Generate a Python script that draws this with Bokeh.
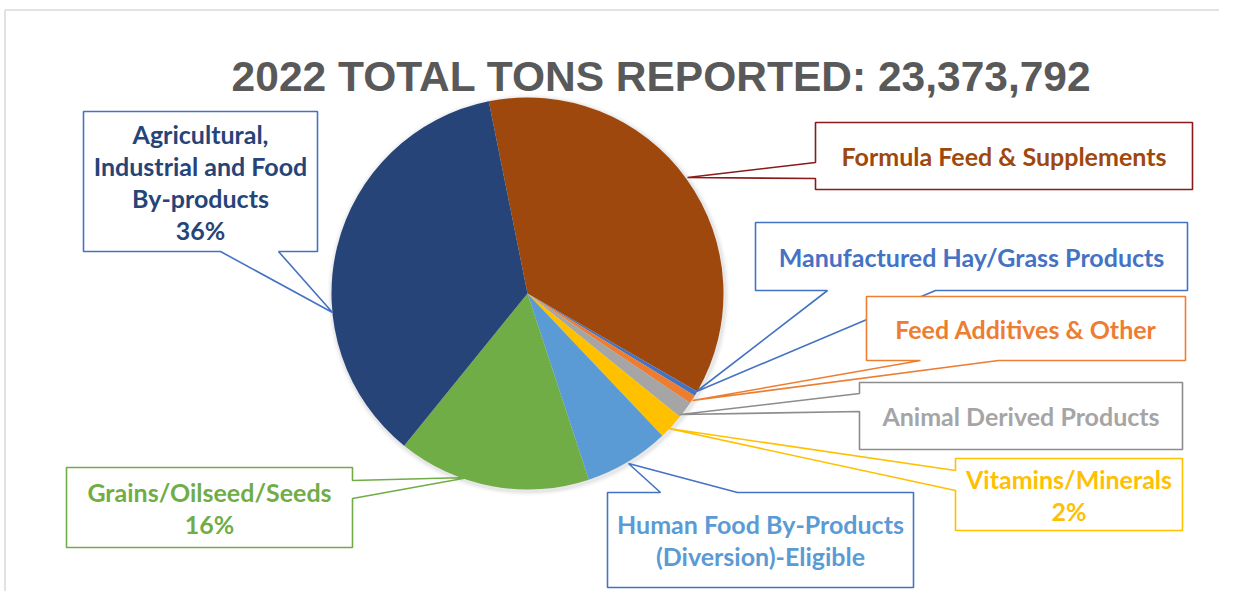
import math
from bokeh.plotting import figure
from bokeh.models import Range1d
from bokeh.core.properties import value
from bokeh.embed import file_html
from bokeh.resources import INLINE

# ---------------- data ----------------
title_text = "2022 TOTAL TONS REPORTED: 23,373,792"
categories = [
    "Formula Feed & Supplements",
    "Manufactured Hay/Grass Products",
    "Feed Additives & Other",
    "Animal Derived Products",
    "Vitamins/Minerals",
    "Human Food By-Products (Diversion)-Eligible",
    "Grains/Oilseed/Seeds",
    "Agricultural, Industrial and Food By-products",
]
shares = [36.5, 0.4, 0.7, 1.4, 2.1, 7.0, 15.9, 36.0]
label_lines = [
    ["Formula Feed & Supplements"],
    ["Manufactured Hay/Grass Products"],
    ["Feed Additives & Other"],
    ["Animal Derived Products"],
    ["Vitamins/Minerals"],
    ["Human Food By-Products", "(Diversion)-Eligible"],
    ["Grains/Oilseed/Seeds"],
    ["Agricultural,", "Industrial and Food", "By-products"],
]
show_pct = [False, False, False, False, True, False, True, True]

# ---------------- styles ----------------
slice_colors = ["#9E480E", "#4472C4", "#ED7D31", "#A5A5A5",
                "#FFC000", "#5B9BD5", "#70AD47", "#264478"]
text_colors = ["#9E480E", "#4472C4", "#ED7D31", "#A5A5A5",
               "#FFC000", "#5B9BD5", "#70AD47", "#264478"]
border_colors = ["#8B1A1A", "#4472C4", "#ED7D31", "#8C8C8C",
                 "#FFC000", "#4472C4", "#70AD47", "#4472C4"]

# ---------------- layout (image pixels) ----------------
W, H = 1219, 591
CX, CY, R = 527, 293, 196
START_DEG = -11.4          # clockwise from 12 o'clock
LINE_H = 32
# boxes: x0, y0, x1, y1 ; pointer: side, a, b ; tip
boxes = [
    (815, 122, 1192, 189), (755, 222, 1187, 290), (866, 296, 1185, 360),
    (859, 382, 1182, 449), (955, 458, 1182, 530), (607, 492, 913, 587),
    (66, 467, 352, 547), (83, 111, 317, 251),
]
pointers = [
    ("left", 162, 178), ("bottom", 827, 935), ("bottom", 920, 998),
    ("left", 393, 411), ("left", 470, 490), ("top", 660, 737),
    ("right", 480, 498), ("bottom", 220, 278),
]
tips = [(687, 177), (696, 391), (692, 400), (680, 414),
        (668, 428), (628, 463), (468, 477), (332, 312)]

p = figure(width=W, height=H, output_backend="svg", toolbar_location=None,
           x_range=Range1d(0, W), y_range=Range1d(H, 0),
           min_border=0, outline_line_color=None)
p.axis.visible = False
p.grid.visible = False
p.background_fill_color = "white"
p.border_fill_color = "white"

# frame lines of the original panel
p.line([4.5, W], [9.5, 9.5], line_color="#d9d9d9", line_width=1.5)
p.line([4.5, 4.5], [9.5, H], line_color="#d9d9d9", line_width=1.5)

# soft shadow
for dr, a in [(5, 0.04), (3.5, 0.06), (2, 0.09)]:
    p.circle(x=[CX + 1], y=[CY + 1.5], radius=R + dr, fill_color="#7f7f7f",
             fill_alpha=a, line_color=None)

# pie wedges
total = sum(shares)
cum = 0.0
starts, ends = [], []
for s in shares:
    a0 = START_DEG + cum / total * 360
    cum += s
    a1 = START_DEG + cum / total * 360
    starts.append(math.radians(90 - a0))
    ends.append(math.radians(90 - a1))
p.wedge(x=[CX] * len(shares), y=[CY] * len(shares), radius=R,
        start_angle=starts, end_angle=ends, direction="clock",
        fill_color=slice_colors, line_color=None)

# title
p.text(x=[661], y=[76], text=[title_text], text_align="center",
       text_baseline="middle", text_font=value("Liberation Sans"),
       text_font_style="bold", text_font_size="42.5px", text_color="#595959")

# callouts
for i in range(len(categories)):
    x0, y0, x1, y1 = boxes[i]
    side, a, b = pointers[i]
    tx, ty = tips[i]
    if side == "left":
        pts = [(x0, y0), (x1, y0), (x1, y1), (x0, y1), (x0, b), (tx, ty), (x0, a)]
    elif side == "right":
        pts = [(x0, y0), (x1, y0), (x1, a), (tx, ty), (x1, b), (x1, y1), (x0, y1)]
    elif side == "bottom":
        pts = [(x0, y0), (x1, y0), (x1, y1), (b, y1), (tx, ty), (a, y1), (x0, y1)]
    else:
        pts = [(x0, y0), (a, y0), (tx, ty), (b, y0), (x1, y0), (x1, y1), (x0, y1)]
    p.patch([q[0] for q in pts], [q[1] for q in pts], fill_color="white",
            line_color=border_colors[i], line_width=1.6)
    lines = list(label_lines[i])
    if show_pct[i]:
        lines.append(f"{round(shares[i])}%")
    n = len(lines)
    xc = (x0 + x1) / 2
    yc = (y0 + y1) / 2
    ys = [yc + (k - (n - 1) / 2) * LINE_H for k in range(n)]
    p.text(x=[xc] * n, y=ys, text=lines, text_align="center",
           text_baseline="middle", text_font=value("Lato"),
           text_font_style="bold", text_font_size="25px",
           text_color=text_colors[i])

open("out.html", "w").write(file_html(p, INLINE))
